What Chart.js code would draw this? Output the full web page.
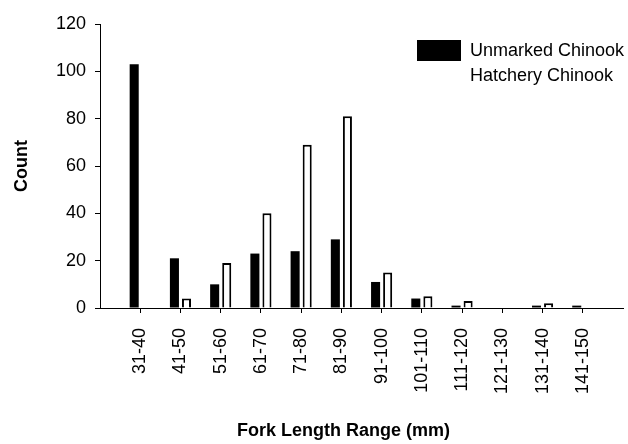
<!DOCTYPE html>
<html>
<head>
<meta charset="utf-8">
<script src="https://cdn.jsdelivr.net/npm/chart.js@4/dist/chart.umd.min.js"></script>
<style>
  html, body { margin: 0; padding: 0; background: #fff; }
  #wrap { width: 628px; height: 444px; }
</style>
</head>
<body>
<div id="wrap"><canvas id="chart" width="628" height="444"></canvas></div>
<script>
const categories = ['31-40', '41-50', '51-60', '61-70', '71-80', '81-90',
  '91-100', '101-110', '111-120', '121-130', '131-140', '141-150'];
const unmarked = [103, 21, 10, 23, 24, 29, 11, 4, 1, 0, 1, 1];
const hatchery = [0, 4, 19, 40, 69, 81, 15, 5, 3, 0, 2, 0];
const seriesNames = ['Unmarked Chinook', 'Hatchery Chinook'];
const yTicks = [0, 20, 40, 60, 80, 100, 120];
const xTitle = 'Fork Length Range (mm)';

const FONT = 'Liberation Sans, Arial, sans-serif';

// categories sit at x = 1..12 on a linear axis, like the spreadsheet layout
const toPoints = arr => arr.map((v, i) => ({ x: i + 1, y: v }));

// legend in the top right corner, x axis title a bit left of the plot centre
const extras = {
  id: 'extras',
  afterDraw(chart) {
    const ctx = chart.ctx;
    ctx.save();
    ctx.font = '18px ' + FONT;
    ctx.textBaseline = 'middle';
    ctx.textAlign = 'left';
    chart.data.datasets.forEach((ds, i) => {
      const y = 51 + i * 25;
      ctx.fillStyle = ds.backgroundColor;
      ctx.fillRect(417, y - 11, 44, 21);
      ctx.fillStyle = '#000';
      ctx.fillText(ds.label, 470, y);
    });
    ctx.font = 'bold 18px ' + FONT;
    ctx.fillText(xTitle, 237, 431);
    ctx.restore();
  }
};

Chart.defaults.font.family = FONT;
Chart.defaults.color = '#000';

new Chart(document.getElementById('chart').getContext('2d'), {
  type: 'bar',
  data: {
    datasets: [
      {
        label: seriesNames[0],
        data: toPoints(unmarked),
        backgroundColor: '#000',
        borderWidth: 0,
        categoryPercentage: 0.6,
        barPercentage: 0.75
      },
      {
        label: seriesNames[1],
        data: toPoints(hatchery),
        backgroundColor: '#fff',
        borderColor: '#000',
        borderWidth: c => (c.raw && c.raw.y > 0 ? 2 : 0),
        borderSkipped: 'bottom',
        categoryPercentage: 0.6,
        barPercentage: 0.75
      }
    ]
  },
  plugins: [extras],
  options: {
    responsive: false,
    animation: false,
    layout: { padding: { top: 24, right: 5, bottom: 0, left: 0 } },
    plugins: {
      legend: { display: false },
      tooltip: { enabled: false }
    },
    scales: {
      x: {
        type: 'linear',
        min: 0,
        max: 13,
        offset: false,
        afterBuildTicks: scale => {
          scale.ticks = categories.map((c, i) => ({ value: i + 1 }));
        },
        afterFit: scale => { scale.height = 136; },
        grid: {
          offset: false,
          drawOnChartArea: false,
          drawTicks: true,
          tickLength: 5,
          color: '#000',
          tickColor: '#000'
        },
        border: { display: true, color: '#000', width: 1 },
        ticks: {
          autoSkip: false,
          minRotation: 90,
          maxRotation: 90,
          padding: 15,
          font: { size: 18 },
          callback: v => categories[v - 1] ?? ''
        },
        title: { display: false }
      },
      y: {
        min: 0,
        max: 120,
        afterFit: scale => { scale.width = 100; },
        grid: {
          drawOnChartArea: false,
          drawTicks: true,
          tickLength: 5,
          color: '#000',
          tickColor: '#000'
        },
        border: { display: true, color: '#000', width: 1 },
        ticks: {
          stepSize: 10,
          padding: 9,
          font: { size: 18 },
          callback: v => (yTicks.includes(v) ? String(v) : '')
        },
        title: {
          display: true,
          text: 'Count',
          font: { size: 18, weight: 'bold' },
          padding: { top: 11, bottom: 0 }
        }
      }
    }
  }
});
</script>
</body>
</html>
